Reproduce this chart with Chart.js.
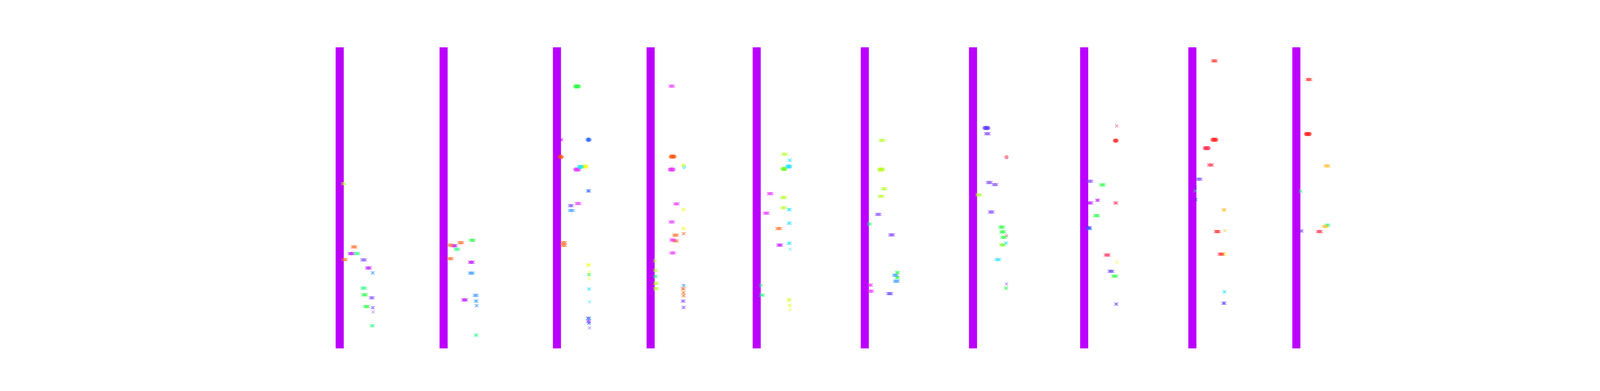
<!DOCTYPE html>
<html>
<head>
<meta charset="utf-8">
<script src="https://cdn.jsdelivr.net/npm/chart.js@4.4.1/dist/chart.umd.min.js"></script>
<style>
  html, body { margin: 0; padding: 0; background: #fff; overflow: hidden; }
  #wrap { position: relative; width: 100vw; height: 100vh; }
</style>
</head>
<body>
<div id="wrap"><canvas id="chart"></canvas></div>
<script>
// x is measured in time steps, y in percent
const windowStart = [352.2, 460.8, 579.3, 677.2, 788.1, 901.1, 1014.2, 1130.4, 1243.5, 1352.2];
const stepMax = 1666.7;
const columnRange = [0, 100];

// rows: [group, kind, steps, value]
const window1 = [
  ['lime', 'x', [3, 4, 5], 54.7],
  ['orange', 'x', [13, 14, 15, 16, 17], 33.7],
  ['purple', 'x', [10, 11, 12, 13, 14], 31.5],
  ['mint', 'x', [16, 17, 18, 19, 20], 31.5],
  ['orange', 'x', [3, 4, 5, 6, 7], 29.5],
  ['lavender', 'x', [23, 24, 25, 26, 27], 29.4],
  ['purple', 'x', [28, 29, 30, 31, 32], 26.7],
  ['sky', 'x', [34, 35], 25.1],
  ['mint', 'x', [23, 24, 25, 26, 27], 20.0],
  ['green', 'x', [24, 25, 26, 27, 28], 17.8],
  ['lavender', 'x', [32, 33, 34, 35], 16.8],
  ['green', 'x', [26, 27, 28, 29, 30], 13.9],
  ['lavender', 'x', [34, 35], 13.5],
  ['lavender', 'x', [35], 12.1],
  ['mint', 'x', [33, 34, 35], 7.5]
];

const window2 = [
  ['orange', 'x', [5, 6, 7, 8, 9], 34.3],
  ['purple', 'x', [9, 10, 11, 12, 13], 34.1],
  ['mint', 'x', [12, 13, 14, 15, 16], 32.9],
  ['orange', 'x', [16, 17, 18, 19, 20], 35.1],
  ['green', 'x', [28, 29, 30, 31, 32], 35.9],
  ['orange', 'x', [5, 6, 7, 8, 9], 29.8],
  ['purple', 'x', [27, 28, 29, 30, 31], 28.6],
  ['sky', 'x', [27, 28, 29, 30, 31], 25.0],
  ['sky', 'x', [32, 33, 34, 35], 17.6],
  ['sky', 'x', [33, 34, 35], 15.7],
  ['sky', 'x', [34, 35], 14.2],
  ['purple', 'x', [20, 21, 22, 23, 24], 16.1],
  ['mint', 'x', [33, 34, 35], 4.4]
];

const window3 = [
  ['green', 'o', [19, 20, 21, 22, 23], 87.0],
  ['purple', 'x', [4, 5], 69.3],
  ['blue', 'o', [32, 33, 34], 69.3],
  ['orangered', 'o', [3, 4, 5], 63.6],
  ['cyan', 'o', [23, 24, 25, 26], 60.3],
  ['yellow', 'o', [27, 28, 29, 30, 31], 60.4],
  ['magenta', 'o', [19, 20, 21, 22, 23], 59.4],
  ['blue', 'x', [32, 33, 34], 52.3],
  ['magenta', 'x', [20, 21, 22, 23, 24], 48.1],
  ['lavender', 'x', [13, 14, 15, 16], 47.4],
  ['sky', 'x', [13, 14, 15, 16, 17], 45.8],
  ['orange', 'x', [5, 6, 7, 8, 9], 35.1],
  ['orange', 'x', [5, 6, 7, 8, 9], 34.2],
  ['yellow', 'x', [32, 33, 34], 27.7],
  ['yellow', 'x', [34], 25.4],
  ['yellow', 'x', [34], 23.1],
  ['green', 'x', [33, 34], 24.5],
  ['cyan', 'x', [33, 34], 19.7],
  ['cyan', 'x', [34], 15.5],
  ['blue', 'x', [32, 33, 34], 10.0],
  ['lavender', 'x', [32, 33, 34], 9.0],
  ['blue', 'x', [33, 34], 8.4],
  ['lavender', 'x', [34], 6.8]
];

const window4 = [
  ['magenta', 'x', [20, 21, 22, 23, 24], 87.1],
  ['orangered', 'o', [21, 22, 23, 24, 25], 63.7],
  ['magenta', 'o', [20, 21, 22, 23, 24], 59.4],
  ['yellow', 'o', [34], 60.8],
  ['cyan', 'o', [35], 60.3],
  ['magenta', 'x', [25, 26, 27, 28, 29], 48.0],
  ['yellow', 'x', [34, 35], 46.1],
  ['magenta', 'x', [20, 21, 22, 23, 24], 42.0],
  ['yellow', 'x', [34, 35], 39.8],
  ['orange', 'x', [24, 25, 26, 27, 28], 37.6],
  ['orange', 'x', [34, 35], 38.1],
  ['magenta', 'x', [21, 22, 23, 24, 25], 36.0],
  ['orange', 'x', [24, 25, 26, 27, 28], 35.7],
  ['magenta', 'x', [21, 22, 23, 24, 25], 31.7],
  ['lime', 'x', [4, 5], 29.1],
  ['lime', 'x', [4, 5, 6], 25.9],
  ['mint', 'x', [4, 5, 6], 23.9],
  ['lime', 'x', [4, 5, 6, 7], 21.6],
  ['lime', 'x', [4, 5, 6, 7], 19.8],
  ['sky', 'x', [34, 35], 20.9],
  ['orange', 'x', [33, 34, 35], 19.8],
  ['orange', 'x', [34, 35], 18.5],
  ['orange', 'x', [34, 35], 17.5],
  ['lavender', 'x', [33, 34, 35], 15.7],
  ['lavender', 'x', [34, 35], 13.6]
];

const window5 = [
  ['lime', 'x', [27, 28, 29, 30, 31], 64.5],
  ['cyan', 'x', [34, 35], 62.5],
  ['cyan', 'o', [32, 33, 34, 35], 60.4],
  ['chartreuse', 'o', [27, 28, 29, 30], 59.6],
  ['magenta', 'x', [12, 13, 14, 15, 16], 51.4],
  ['lime', 'x', [26, 27, 28, 29, 30], 50.1],
  ['magenta', 'x', [8, 9, 10, 11, 12], 44.9],
  ['lime', 'x', [26, 27, 28, 29, 30], 46.7],
  ['cyan', 'x', [33, 34, 35], 46.1],
  ['cyan', 'x', [33, 34, 35], 41.6],
  ['orange', 'x', [21, 22, 23, 24, 25], 39.8],
  ['purple', 'x', [22, 23, 24, 25, 26], 34.3],
  ['cyan', 'x', [33, 34, 35], 34.9],
  ['cyan', 'x', [35], 32.9],
  ['mint', 'x', [4, 5], 20.9],
  ['mint', 'x', [4, 5, 6, 7], 17.7],
  ['yellowlime', 'x', [33, 34, 35], 16.1],
  ['yellowlime', 'x', [34, 35], 14.3],
  ['yellowlime', 'x', [35], 12.9]
];

const window6 = [
  ['lime', 'x', [16, 17, 18, 19, 20], 69.1],
  ['lime', 'o', [15, 16, 17, 18, 19], 59.4],
  ['lime', 'x', [18, 19, 20, 21, 22], 53.0],
  ['lime', 'x', [15, 16, 17, 18, 19], 50.5],
  ['lavender', 'x', [12, 13, 14, 15, 16], 44.5],
  ['mint', 'x', [4, 5, 6], 41.3],
  ['lavender', 'x', [26, 27, 28, 29, 30], 37.7],
  ['green', 'x', [33, 34, 35], 25.2],
  ['sky', 'x', [30, 31, 32, 33, 34], 24.3],
  ['green', 'x', [33, 34, 35], 23.5],
  ['sky', 'x', [31, 32, 33, 34, 35], 22.3],
  ['magenta', 'x', [4, 5, 6, 7], 21.0],
  ['magenta', 'x', [4, 5, 6, 7, 8], 19.0],
  ['violetblue', 'x', [24, 25, 26, 27, 28], 18.2]
];

const window7 = [
  ['violetblue', 'o', [12, 13, 14, 15, 16], 73.2],
  ['lavender', 'x', [13, 14, 15, 16, 17], 71.3],
  ['redpink', 'o', [35], 63.5],
  ['lavender', 'x', [15, 16, 17, 18, 19], 55.1],
  ['lavender', 'x', [21, 22, 23, 24, 25], 54.4],
  ['lime', 'x', [4, 5, 6, 7, 8], 51.0],
  ['lavender', 'x', [17, 18, 19, 20, 21], 45.3],
  ['green', 'x', [28, 29, 30, 31, 32], 40.3],
  ['green', 'x', [29, 30, 31, 32, 33], 38.7],
  ['green', 'x', [30, 31, 32, 33, 34], 36.9],
  ['redpink', 'x', [35], 37.4],
  ['cyan', 'x', [34, 35], 35.0],
  ['chartreuse', 'x', [29, 30, 31, 32, 33], 34.4],
  ['cyan', 'x', [24, 25, 26, 27, 28], 29.5],
  ['lavender', 'x', [35], 21.4],
  ['green', 'x', [34, 35], 20.0]
];

const window8 = [
  ['redpink', 'x', [34], 73.9],
  ['red', 'o', [32, 33, 34], 69.0],
  ['lavender', 'x', [4, 5, 6, 7, 8], 55.5],
  ['green', 'x', [17, 18, 19, 20, 21], 54.3],
  ['purple', 'x', [13, 14, 15], 49.2],
  ['purple', 'x', [4, 5, 6, 7, 8], 48.3],
  ['redpink', 'x', [32, 33, 34], 48.3],
  ['green', 'x', [11, 12, 13, 14, 15], 44.1],
  ['violetblue', 'x', [3, 4, 5, 6], 40.1],
  ['sky', 'x', [4, 5, 6, 7], 39.8],
  ['redpink', 'x', [22, 23, 24, 25, 26], 31.0],
  ['yellow', 'x', [34], 28.6],
  ['violetblue', 'x', [26, 27, 28, 29, 30], 25.6],
  ['green', 'x', [30, 31, 32, 33, 34], 24.0],
  ['violetblue', 'x', [33, 34], 14.7]
];

const window9 = [
  ['red', 'x', [21, 22, 23, 24, 25], 95.5],
  ['red', 'o', [21, 22, 23, 24, 25], 69.3],
  ['redpink', 'o', [13, 14, 15, 16, 17], 66.5],
  ['redpink', 'x', [17, 18, 19, 20, 21], 60.9],
  ['lavender', 'x', [5, 6, 7, 8, 9], 56.2],
  ['violetblue', 'x', [3], 53.4],
  ['mint', 'x', [3], 52.3],
  ['violetblue', 'x', [3, 4], 49.4],
  ['gold', 'x', [32, 33, 34], 46.0],
  ['red', 'x', [24, 25, 26, 27, 28], 38.8],
  ['gold', 'x', [34], 39.1],
  ['red', 'x', [28, 29, 30, 31, 32], 31.3],
  ['yellow', 'x', [33, 34], 31.3],
  ['cyan', 'x', [33, 34], 18.8],
  ['violetblue', 'x', [32, 33, 34], 15.0]
];

const window10 = [
  ['red', 'x', [11, 12, 13, 14, 15], 89.3],
  ['red', 'o', [10, 11, 12, 13, 14], 71.2],
  ['gold', 'x', [30, 31, 32, 33, 34], 60.6],
  ['mint', 'x', [4, 5], 52.2],
  ['lavender', 'x', [4, 5, 6], 39.0],
  ['redpink', 'x', [22, 23, 24, 25, 26], 38.8],
  ['gold', 'x', [28, 29, 30, 31, 32], 40.5],
  ['mint', 'x', [31, 32, 33, 34], 40.9]
];

const windows = [window1, window2, window3, window4, window5, window6, window7, window8, window9, window10];

const palette = {
  purple: [187, 0, 255],
  orange: [255, 110, 40],
  mint: [40, 255, 130],
  lime: [180, 255, 30],
  lavender: [130, 70, 255],
  sky: [50, 150, 255],
  green: [30, 255, 60],
  magenta: [230, 50, 255],
  cyan: [30, 225, 255],
  blue: [30, 90, 255],
  yellow: [240, 255, 20],
  red: [255, 30, 30],
  redpink: [255, 40, 80],
  gold: [255, 185, 20],
  orangered: [255, 80, 10],
  chartreuse: [100, 255, 20],
  violetblue: [90, 50, 255],
  yellowlime: [215, 255, 30]
};

function rgba(name, a) {
  const c = palette[name];
  return `rgba(${c[0]},${c[1]},${c[2]},${a})`;
}

// sizes are given in screen pixels, so divide by the pixel ratio
const dpr = window.devicePixelRatio || 1;
const px = v => v / dpr;
const h = window.innerHeight;

const datasets = [];

datasets.push({
  type: 'bar',
  data: windowStart.map(x => ({ x: x, y: columnRange })),
  backgroundColor: '#bb00ff',
  borderWidth: 0,
  barThickness: px(20),
  grouped: false,
  order: 10
});

windows.forEach((rows, w) => {
  rows.forEach(([group, kind, steps, value]) => {
    const cross = kind === 'x';
    datasets.push({
      type: 'scatter',
      data: steps.map(t => ({ x: windowStart[w] + t, y: value })),
      pointStyle: cross ? 'crossRot' : 'circle',
      pointRadius: px(cross ? 5.5 : 4.8),
      pointBorderWidth: px(cross ? 1.6 : 1),
      pointBorderColor: rgba(group, cross ? 0.6 : 0.5),
      pointBackgroundColor: rgba(group, 0.5),
      order: 0
    });
  });
});

new Chart(document.getElementById('chart').getContext('2d'), {
  type: 'scatter',
  data: { datasets: datasets },
  options: {
    responsive: true,
    maintainAspectRatio: false,
    animation: false,
    layout: { padding: { top: h * 0.121, bottom: h * 0.109, left: 0, right: 0 } },
    plugins: {
      legend: { display: false },
      tooltip: { enabled: false }
    },
    scales: {
      x: { type: 'linear', min: 0, max: stepMax, display: false, offset: false },
      y: { type: 'linear', min: 0, max: 100, display: false }
    }
  }
});
</script>
</body>
</html>
